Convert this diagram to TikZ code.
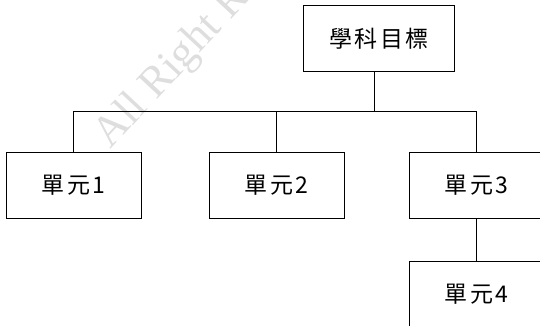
\documentclass[tikz,border=0pt]{standalone}
\usepackage{fontspec}
\newfontfamily\cjk[LetterSpace=11]{Noto Sans CJK TC}
\usetikzlibrary{positioning}

\begin{document}
\begin{tikzpicture}[x=1pt,y=-1pt,line width=1pt,
  goal node/.style={rectangle,fill=white,draw,minimum width=151pt,minimum height=66pt,font=\cjk\fontsize{23}{26}\selectfont},
  unit node/.style={rectangle,fill=white,draw,minimum width=135pt,minimum height=66pt,font=\cjk\fontsize{23}{26}\selectfont}]
  \useasboundingbox (0,0) rectangle (540,326);
  % watermark
  \node[anchor=base west,inner sep=0pt,rotate=47,text=black!13,font=\fontspec{Liberation Serif}\fontsize{44}{44}\selectfont] (mark) at (110,150) {All Right Reserved};
  \node[goal node] (top) at (379,38.5) {學科目標};
  \node[unit node] (u1) at (73.5,185.7) {單元1};
  \node[unit node] (u2) [right=67pt of u1] {單元2};
  \node[unit node] (u3) [right=64pt of u2] {單元3};
  \node[unit node] (u4) [below=42pt of u3] {單元4};
  \coordinate (bus) at (374,112);

  \draw (top.south -| bus) -- (bus);
  \draw (u1.north) -- (u1.north |- bus) -- (u3.north |- bus) -- (u3.north);
  \draw (u2.north) -- (u2.north |- bus);
  \draw (u3.south) -- (u4.north);
\end{tikzpicture}
\end{document}
